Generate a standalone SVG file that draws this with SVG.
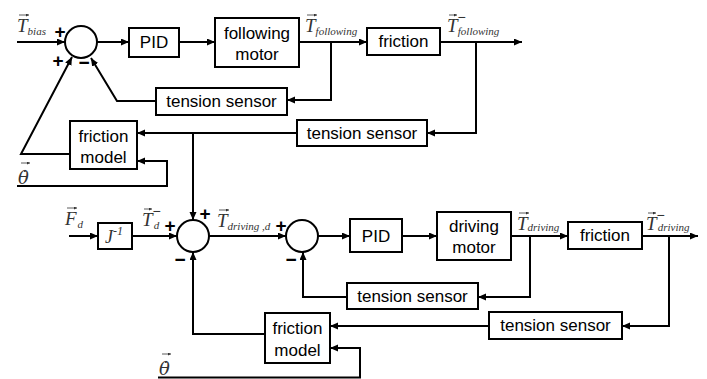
<svg xmlns="http://www.w3.org/2000/svg" width="707" height="379" viewBox="0 0 707 379">
<defs>
<marker id="ah" markerUnits="userSpaceOnUse" markerWidth="9" markerHeight="8" refX="8" refY="3.5" orient="auto">
<path d="M0,0 L8,3.5 L0,7 z" fill="#000"/>
</marker>
<marker id="vh" markerUnits="userSpaceOnUse" markerWidth="4" markerHeight="4" refX="3" refY="1.5" orient="auto">
<path d="M0,0 L3,1.5 L0,3 z" fill="#333"/>
</marker>
<style>
.box{fill:#fff;stroke:#000;stroke-width:2}
.sum{fill:#fff;stroke:#000;stroke-width:2}
.lbl{font-family:"Liberation Sans",Arial,sans-serif;font-size:17px;fill:#000;text-anchor:middle}
.a{fill:none;stroke:#000;stroke-width:2;marker-end:url(#ah)}
.vec{fill:none;stroke:#333;stroke-width:0.8;marker-end:url(#vh)}
.m{font-family:"Liberation Serif","Times New Roman",serif;font-style:italic;font-size:19px;fill:#333}
.th{font-family:"DejaVu Serif",serif;font-style:italic;font-size:18px;fill:#333}
.s{font-size:11px}
.sup{font-style:normal;font-size:14px;font-family:"Liberation Sans",Arial,sans-serif}
.pm{font-family:"Liberation Sans",Arial,sans-serif;font-size:19px;font-weight:bold;fill:#000;text-anchor:middle}
</style>
</defs>

<g id="connectors">
<line class="a" x1="17" y1="42" x2="65" y2="42"/>
<line class="a" x1="97" y1="42" x2="129" y2="42"/>
<line class="a" x1="179" y1="42" x2="215" y2="42"/>
<line class="a" x1="299" y1="42" x2="367" y2="42"/>
<line class="a" x1="440" y1="42" x2="522" y2="42"/>
<polyline class="a" points="331,42 331,100 287,100"/>
<polyline class="a" points="156,101 117,101 91,58"/>
<polyline class="a" points="476,42 476,133 427,133"/>
<line class="a" x1="297" y1="133" x2="137" y2="133"/>
<line class="a" x1="193" y1="133" x2="193" y2="220"/>
<polyline class="a" points="70,154 21,154 72,57"/>
<polyline class="a" points="17,186 167,186 167,161 137,161"/>
<line class="a" x1="69" y1="236" x2="98" y2="236"/>
<line class="a" x1="132" y1="236" x2="177" y2="236"/>
<line class="a" x1="209" y1="236" x2="286" y2="236"/>
<line class="a" x1="318" y1="236" x2="350" y2="236"/>
<line class="a" x1="402" y1="236" x2="437" y2="236"/>
<line class="a" x1="511" y1="236" x2="568" y2="236"/>
<line class="a" x1="642" y1="236" x2="698" y2="236"/>
<polyline class="a" points="530,236 530,297 478,297"/>
<polyline class="a" points="347,297 303,297 303,252"/>
<polyline class="a" points="669,236 669,326 622,326"/>
<line class="a" x1="489" y1="326" x2="330" y2="326"/>
<polyline class="a" points="265,334 193,334 193,252"/>
<polyline class="a" points="158,377.5 360,377.5 360,348 330,348"/>
</g>

<g id="sum1"><circle class="sum" cx="81" cy="42" r="16"/></g>
<g id="sum2"><circle class="sum" cx="193" cy="236" r="16"/></g>
<g id="sum3"><circle class="sum" cx="302" cy="236" r="16"/></g>

<g id="signs">
<text class="pm" x="60" y="38">+</text>
<text class="pm" x="58" y="67">+</text>
<text class="pm" x="84" y="69">−</text>
<text class="pm" x="170" y="232">+</text>
<text class="pm" x="205" y="220">+</text>
<text class="pm" x="180" y="266">−</text>
<text class="pm" x="281" y="232">+</text>
<text class="pm" x="291" y="266">−</text>
</g>

<g id="pid1"><rect class="box" x="129" y="28" width="50" height="29"/><text class="lbl" x="154" y="48">PID</text></g>
<g id="following-motor"><rect class="box" x="215" y="18" width="84" height="49"/><text class="lbl" x="257" y="39">following</text><text class="lbl" x="257" y="60">motor</text></g>
<g id="friction1"><rect class="box" x="367" y="28" width="73" height="27"/><text class="lbl" x="403.5" y="47">friction</text></g>
<g id="tension-sensor1"><rect class="box" x="156" y="88" width="131" height="27"/><text class="lbl" x="221.5" y="107">tension sensor</text></g>
<g id="tension-sensor2"><rect class="box" x="297" y="120" width="130" height="26"/><text class="lbl" x="362" y="139">tension sensor</text></g>
<g id="friction-model1"><rect class="box" x="70" y="121" width="67" height="48"/><text class="lbl" x="103.5" y="142">friction</text><text class="lbl" x="103.5" y="163">model</text></g>

<g id="j-inv"><rect class="box" x="98" y="223" width="34" height="26"/><text class="m" x="105" y="243" style="font-size:18px">J<tspan dy="-8" style="font-size:12px">-1</tspan></text></g>
<g id="pid2"><rect class="box" x="350" y="219" width="52" height="33"/><text class="lbl" x="376" y="242">PID</text></g>
<g id="driving-motor"><rect class="box" x="437" y="212" width="74" height="48"/><text class="lbl" x="474" y="232">driving</text><text class="lbl" x="474" y="253">motor</text></g>
<g id="friction2"><rect class="box" x="568" y="222" width="74" height="27"/><text class="lbl" x="605" y="241">friction</text></g>
<g id="tension-sensor3"><rect class="box" x="347" y="283" width="131" height="26"/><text class="lbl" x="412.5" y="302">tension sensor</text></g>
<g id="tension-sensor4"><rect class="box" x="489" y="312" width="133" height="27"/><text class="lbl" x="555.5" y="331">tension sensor</text></g>
<g id="friction-model2"><rect class="box" x="265" y="313" width="65" height="50"/><text class="lbl" x="297.5" y="334">friction</text><text class="lbl" x="297.5" y="356">model</text></g>

<g id="labels">
<text class="m" x="17" y="32">T<tspan class="s" dy="3">bias</tspan></text>
<text class="m" x="305" y="32">T<tspan class="s" dy="3">following</tspan></text>
<text class="m" x="447" y="32">T<tspan class="sup" dy="-10">−</tspan><tspan class="s" dx="-8" dy="13">following</tspan></text>
<text class="th" x="18" y="184">θ̇</text>
<text class="m" x="65" y="225">F<tspan class="s" dx="1" dy="3">d</tspan></text>
<text class="m" x="142" y="226">T<tspan class="sup" dy="-10">−</tspan><tspan class="s" dx="-7" dy="13">d</tspan></text>
<text class="m" x="217" y="227">T<tspan class="s" dy="3">driving ,d</tspan></text>
<text class="m" x="517" y="230">T<tspan class="s" dy="1">driving</tspan></text>
<text class="m" x="646" y="230">T<tspan class="sup" dy="-10">−</tspan><tspan class="s" dx="-7" dy="11">driving</tspan></text>
<text class="th" x="159" y="375">θ̇</text>
</g>

<g id="vector-accents">
<line class="vec" x1="19" y1="15" x2="29" y2="15"/>
<line class="vec" x1="307" y1="15" x2="317" y2="15"/>
<line class="vec" x1="449" y1="15" x2="457" y2="15"/>
<line class="vec" x1="21" y1="163" x2="30" y2="163"/>
<line class="vec" x1="162" y1="354" x2="171" y2="354"/>
<line class="vec" x1="67" y1="208" x2="77" y2="208"/>
<line class="vec" x1="144" y1="209" x2="152" y2="209"/>
<line class="vec" x1="219" y1="210" x2="229" y2="210"/>
<line class="vec" x1="519" y1="213" x2="529" y2="213"/>
<line class="vec" x1="648" y1="213" x2="656" y2="213"/>
</g>
</svg>
